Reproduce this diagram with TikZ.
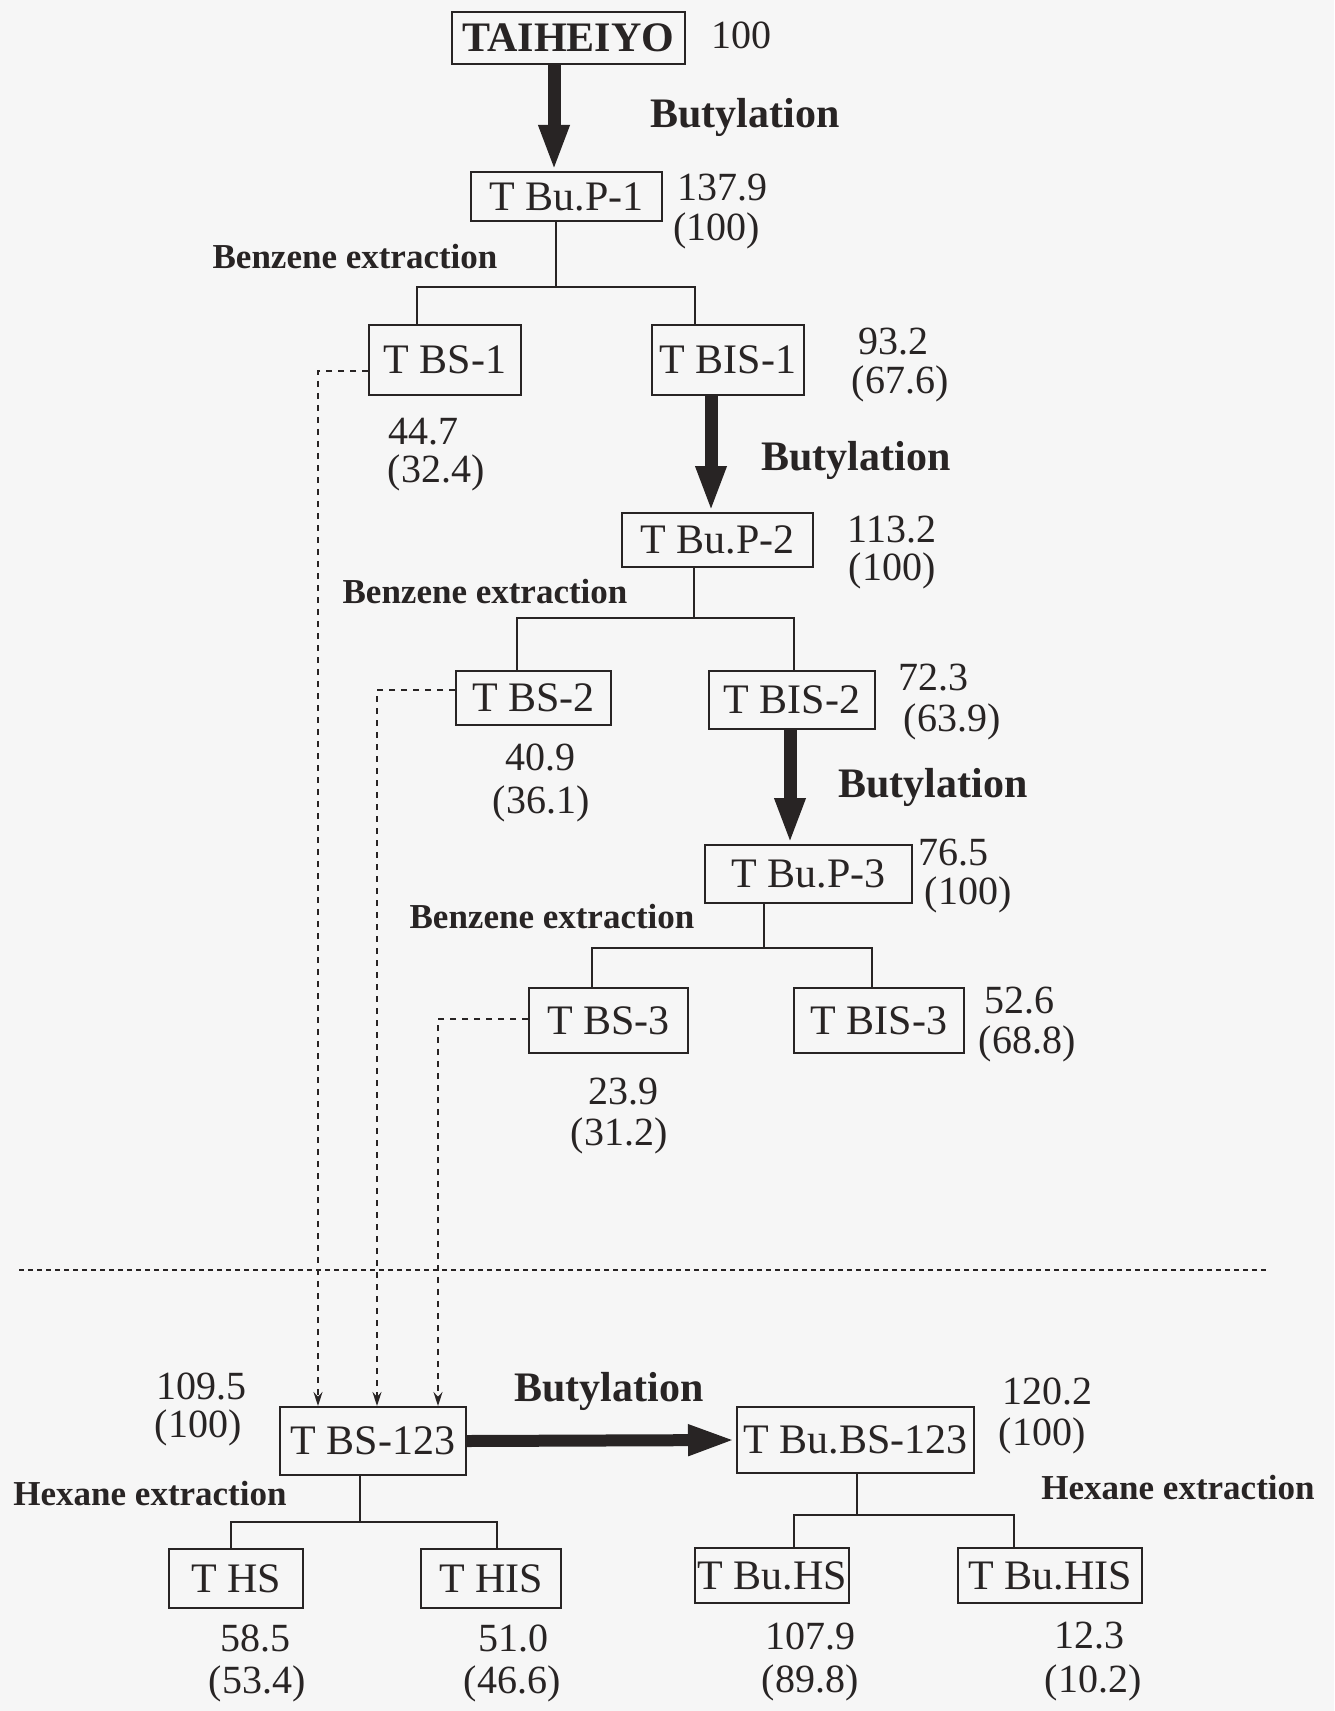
\documentclass[tikz,border=0pt]{standalone}
\usepackage{fontspec}
\setmainfont{Liberation Serif}
\usetikzlibrary{arrows.meta}
\definecolor{ink}{RGB}{40,36,36}
\definecolor{paper}{RGB}{246,246,246}
\begin{document}
\begin{tikzpicture}[x=0.5pt,y=-0.5pt,
  box/.style={draw=ink, text=ink, line width=1pt, inner sep=0pt, font=\fontsize{21}{25}\selectfont},
  tbox/.style={draw=ink, text=ink, line width=1pt, inner sep=0pt, font=\bfseries\fontsize{21}{24}\selectfont},
  num/.style={text=ink, inner sep=0pt, font=\fontsize{20}{24}\selectfont},
  bigbold/.style={text=ink, inner sep=0pt, font=\bfseries\fontsize{21}{24}\selectfont},
  smallbold/.style={text=ink, inner sep=0pt, font=\bfseries\fontsize{17.5}{20}\selectfont},
  bigarrow/.style={draw=ink, line width=6.5pt, -{Triangle[width=14pt,length=23pt]}},
  harrow/.style={draw=ink, line width=6pt, -{Triangle[width=14pt,length=24pt]}},
  link/.style={draw=ink, line width=0.8pt},
  dasharrow/.style={draw=ink, line width=0.75pt, dash pattern=on 3pt off 3pt, -{Stealth[length=7pt,width=4.5pt]}},
  sepline/.style={draw=ink, line width=0.8pt, dash pattern=on 2.5pt off 2pt}
]
\fill[paper] (0,0) rectangle (1334,1711);
\useasboundingbox (0,0) rectangle (1334,1711);

% ---------- boxes ----------
\node[tbox, minimum width=116.5pt, minimum height=26pt] (TAI) at (568.5,38) {TAIHEIYO};
\node[box, minimum width=95.5pt, minimum height=24.5pt] (TBuP1) at (566.5,196.5) {T Bu.P-1};
\node[box, minimum width=76pt, minimum height=35pt] (TBS1) at (445,360) {T BS-1};
\node[box, minimum width=76pt, minimum height=35pt] (TBIS1) at (728,360) {T BIS-1};
\node[box, minimum width=95.5pt, minimum height=27pt] (TBuP2) at (717.5,540) {T Bu.P-2};
\node[box, minimum width=77.5pt, minimum height=27pt] (TBS2) at (533.5,698) {T BS-2};
\node[box, minimum width=83pt, minimum height=29pt] (TBIS2) at (792,700) {T BIS-2};
\node[box, minimum width=103.5pt, minimum height=29pt] (TBuP3) at (808.5,874) {T Bu.P-3};
\node[box, minimum width=79.5pt, minimum height=32.5pt] (TBS3) at (608.5,1020.5) {T BS-3};
\node[box, minimum width=85pt, minimum height=32.5pt] (TBIS3) at (879,1020.5) {T BIS-3};
\node[box, minimum width=93pt, minimum height=34pt] (TBS123) at (373,1441) {T BS-123};
\node[box, minimum width=118.5pt, minimum height=33pt] (TBuBS123) at (855.5,1440) {T Bu.BS-123};
\node[box, minimum width=67pt, minimum height=29.5pt] (THS) at (236,1578.5) {T HS};
\node[box, minimum width=70pt, minimum height=29.5pt] (THIS) at (491,1578.5) {T HIS};
\node[box, minimum width=77pt, minimum height=27.5pt] (TBuHS) at (772,1575.5) {T Bu.HS};
\node[box, minimum width=92pt, minimum height=27.5pt] (TBuHIS) at (1050,1575.5) {T Bu.HIS};

% ---------- labels ----------
\node[num] (n0) at (741,35) {100};
\node[bigbold] (bu1) at (745,117) {Butylation};
\node[num, anchor=west] (n1a) at (677,188) {137.9};
\node[num, anchor=west] (n1b) at (673,231) {(100)};
\node[smallbold] (be1) at (355,257) {Benzene extraction};
\node[num] (n2a) at (893,342) {93.2};
\node[num] (n2b) at (900,384) {(67.6)};
\node[num] (n3a) at (423,432) {44.7};
\node[num] (n3b) at (436,473) {(32.4)};
\node[bigbold] (bu2) at (856,460) {Butylation};
\node[num] (n4a) at (892,530) {113.2};
\node[num] (n4b) at (892,571) {(100)};
\node[smallbold] (be2) at (485,592) {Benzene extraction};
\node[num] (n5a) at (933,678) {72.3};
\node[num] (n5b) at (952,722) {(63.9)};
\node[num] (n6a) at (540,757) {40.9};
\node[num] (n6b) at (541,804) {(36.1)};
\node[bigbold] (bu3) at (933,787) {Butylation};
\node[num] (n7a) at (953,853) {76.5};
\node[num] (n7b) at (968,895) {(100)};
\node[smallbold] (be3) at (552,917) {Benzene extraction};
\node[num] (n8a) at (1019,1001) {52.6};
\node[num] (n8b) at (1027,1044) {(68.8)};
\node[num] (n9a) at (623,1092) {23.9};
\node[num] (n9b) at (619,1136) {(31.2)};
\node[num] (n10a) at (201,1386) {109.5};
\node[num] (n10b) at (198,1428) {(100)};
\node[bigbold] (bu4) at (609,1391) {Butylation};
\node[num] (n11a) at (1047,1391) {120.2};
\node[num] (n11b) at (1042,1436) {(100)};
\node[smallbold] (he1) at (150,1494) {Hexane extraction};
\node[smallbold] (he2) at (1178,1488) {Hexane extraction};
\node[num] (n12a) at (255,1638) {58.5};
\node[num] (n12b) at (257,1684) {(53.4)};
\node[num] (n13a) at (513,1638) {51.0};
\node[num] (n13b) at (512,1684) {(46.6)};
\node[num] (n14a) at (810,1636) {107.9};
\node[num] (n14b) at (810,1683) {(89.8)};
\node[num] (n15a) at (1089,1636) {12.3};
\node[num] (n15b) at (1093,1683) {(10.2)};

% ---------- helper coordinates ----------
\coordinate (a1) at (554,0);
\coordinate (a2) at (711,0);
\coordinate (a3) at (790,0);
\coordinate (b1M) at (556,287);  \coordinate (b1L) at (417,287);  \coordinate (b1R) at (695,287);
\coordinate (b2M) at (694,618);  \coordinate (b2L) at (517,618);  \coordinate (b2R) at (794,618);
\coordinate (b3M) at (764,948);  \coordinate (b3L) at (592,948);  \coordinate (b3R) at (872,948);
\coordinate (b4M) at (360,1522); \coordinate (b4L) at (231,1522); \coordinate (b4R) at (497,1522);
\coordinate (b5M) at (857,1515); \coordinate (b5L) at (794,1515); \coordinate (b5R) at (1014,1515);
\coordinate (d1) at (318,371);
\coordinate (d2) at (377,690);
\coordinate (d3) at (438,1019);
\coordinate (sepL) at (19,1270);
\coordinate (sepR) at (1268,1270);

% ---------- butylation arrows ----------
\draw[bigarrow] (TAI.south -| a1) -- (TBuP1.north -| a1);
\draw[bigarrow] (TBIS1.south -| a2) -- (TBuP2.north -| a2);
\draw[bigarrow] (TBIS2.south -| a3) -- (TBuP3.north -| a3);
\draw[harrow] (TBS123.east) -- (TBuBS123.west);

% ---------- extraction splits ----------
\draw[link] (TBuP1.south -| b1M) -- (b1M);
\draw[link] (TBS1.north -| b1L) -- (b1L) -- (b1R) -- (TBIS1.north -| b1R);
\draw[link] (TBuP2.south -| b2M) -- (b2M);
\draw[link] (TBS2.north -| b2L) -- (b2L) -- (b2R) -- (TBIS2.north -| b2R);
\draw[link] (TBuP3.south -| b3M) -- (b3M);
\draw[link] (TBS3.north -| b3L) -- (b3L) -- (b3R) -- (TBIS3.north -| b3R);
\draw[link] (TBS123.south -| b4M) -- (b4M);
\draw[link] (THS.north -| b4L) -- (b4L) -- (b4R) -- (THIS.north -| b4R);
\draw[link] (TBuBS123.south -| b5M) -- (b5M);
\draw[link] (TBuHS.north -| b5L) -- (b5L) -- (b5R) -- (TBuHIS.north -| b5R);

% ---------- dashed collection ----------
\draw[dasharrow] (TBS1.west |- d1) -- (d1) -- (TBS123.north -| d1);
\draw[dasharrow] (TBS2.west |- d2) -- (d2) -- (TBS123.north -| d2);
\draw[dasharrow] (TBS3.west |- d3) -- (d3) -- (TBS123.north -| d3);
\draw[sepline] (sepL) -- (sepR);
\end{tikzpicture}
\end{document}
